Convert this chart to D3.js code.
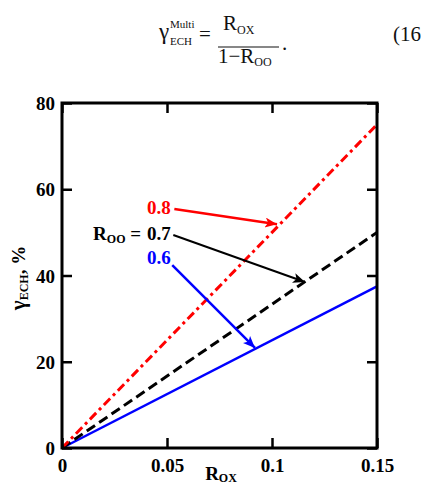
<!DOCTYPE html>
<html>
<head>
<meta charset="utf-8">
<script src="https://cdn.jsdelivr.net/npm/d3@7"></script>
<style>
  body { margin: 0; background: #fff; }
  text { font-family: "Liberation Serif", "DejaVu Serif", serif; }
</style>
</head>
<body>
<div id="chart"></div>
<script>
// data
var rOx = [0, 0.15];
var gamma08 = [0, 75];
var gamma07 = [0, 50];
var gamma06 = [0, 37.5];
var xTicks = [0, 0.05, 0.1, 0.15];
var xTickLabels = ["0", "0.05", "0.1", "0.15"];
var yTicks = [0, 20, 40, 60, 80];
var yTickLabels = ["0", "20", "40", "60", "80"];

// annotation labels and arrows (data units)
var annLabels = ["0.8", "0.7", "0.6"];
var annColors = ["#ff0000", "#000000", "#0000ff"];
var annTextX = [0.0405, 0.0405, 0.0405];
var annTextY = [54.3, 48.2, 42.7];
var arrowX0 = [0.0535, 0.0530, 0.0525];
var arrowY0 = [55.4, 49.4, 42.4];
var arrowX1 = [0.1024, 0.1157, 0.0919];
var arrowY1 = [51.9, 38.5, 23.2];

var width = 429, height = 485;
var plotL = 62, plotR = 377, plotT = 103, plotB = 448;

var svg = d3.select("#chart").append("svg")
  .attr("width", width)
  .attr("height", height);

var x = d3.scaleLinear().domain([0, 0.15]).range([plotL, plotR]);
var y = d3.scaleLinear().domain([0, 80]).range([plotB, plotT]);

// equation above the chart
var eq = svg.append("g").attr("fill", "#111").style("font-size", "21px");
eq.append("text").attr("x", 159).attr("y", 39).style("font-size", "23px").text("\u03b3");
eq.append("text").attr("x", 170).attr("y", 28).style("font-size", "11px").text("Multi");
eq.append("text").attr("x", 170).attr("y", 45).style("font-size", "11px").text("ECH");
eq.append("text").attr("x", 199).attr("y", 41).text("=");
var num = eq.append("text").attr("x", 223).attr("y", 30);
num.append("tspan").text("R");
num.append("tspan").attr("dy", 4).style("font-size", "12px").text("OX");
eq.append("line").attr("x1", 218).attr("x2", 279).attr("y1", 47).attr("y2", 47)
  .attr("stroke", "#111").attr("stroke-width", 1.2);
var den = eq.append("text").attr("x", 218).attr("y", 63);
den.append("tspan").text("1\u2212R");
den.append("tspan").attr("dy", 3).style("font-size", "12px").text("OO");
eq.append("text").attr("x", 282).attr("y", 50).text(".");
eq.append("text").attr("x", 393).attr("y", 41).text("(16");

// lines
var line = d3.line()
  .x(function (d) { return x(d[0]); })
  .y(function (d) { return y(d[1]); });

function pairs(ys) {
  return rOx.map(function (v, i) { return [v, ys[i]]; });
}

svg.append("path").datum(pairs(gamma06))
  .attr("d", line).attr("fill", "none")
  .attr("stroke", "#0000ff").attr("stroke-width", 2.5);
svg.append("path").datum(pairs(gamma07))
  .attr("d", line).attr("fill", "none")
  .attr("stroke", "#000").attr("stroke-width", 3)
  .attr("stroke-dasharray", "10,5");
svg.append("path").datum(pairs(gamma08))
  .attr("d", line).attr("fill", "none")
  .attr("stroke", "#ff0000").attr("stroke-width", 3)
  .attr("stroke-dasharray", "9,4,3,4");

// axes with inward ticks on all four sides
var xAxisB = d3.axisBottom(x).tickValues(xTicks).tickSize(-10)
  .tickFormat(function (d, i) { return xTickLabels[i]; });
var xAxisT = d3.axisTop(x).tickValues(xTicks).tickSize(-10).tickFormat("");
var yAxisL = d3.axisLeft(y).tickValues(yTicks).tickSize(-10)
  .tickFormat(function (d, i) { return yTickLabels[i]; });
var yAxisR = d3.axisRight(y).tickValues(yTicks).tickSize(-10).tickFormat("");

function styleAxis(g) {
  g.select(".domain").remove();
  g.selectAll(".tick line").attr("stroke", "#000").attr("stroke-width", 2.5);
  g.selectAll(".tick text")
    .attr("fill", "#000")
    .style("font-family", "'Liberation Serif', serif")
    .style("font-size", "19px")
    .style("font-weight", "bold");
}

svg.append("g").attr("transform", "translate(0," + plotB + ")").call(xAxisB).call(styleAxis)
  .selectAll(".tick text").attr("y", 11).attr("dy", "0.71em");
svg.append("g").attr("transform", "translate(0," + plotT + ")").call(xAxisT).call(styleAxis);
svg.append("g").attr("transform", "translate(" + plotL + ",0)").call(yAxisL).call(styleAxis)
  .selectAll(".tick text").attr("x", -7).attr("dy", "0.35em");
svg.append("g").attr("transform", "translate(" + plotR + ",0)").call(yAxisR).call(styleAxis);

// frame
svg.append("rect")
  .attr("x", plotL).attr("y", plotT)
  .attr("width", plotR - plotL).attr("height", plotB - plotT)
  .attr("fill", "none").attr("stroke", "#000").attr("stroke-width", 3);

// axis titles
var xt = svg.append("text")
  .attr("x", 221).attr("y", 480)
  .attr("text-anchor", "middle")
  .style("font-weight", "bold").style("font-size", "19px");
xt.append("tspan").text("R");
xt.append("tspan").attr("dy", 2).style("font-size", "12px").text("OX");

var yt = svg.append("text")
  .attr("transform", "translate(25,278) rotate(-90)")
  .attr("text-anchor", "middle")
  .style("font-weight", "bold").style("font-size", "19px");
yt.append("tspan").style("font-size", "21px").text("\u03b3");
yt.append("tspan").attr("dy", 3).style("font-size", "12px").text("ECH");
yt.append("tspan").attr("dy", -3).text(", %");

// arrow markers
var defs = svg.append("defs");
annColors.forEach(function (c, i) {
  defs.append("marker")
    .attr("id", "arr" + i)
    .attr("viewBox", "0 0 12 10")
    .attr("refX", 12).attr("refY", 5)
    .attr("markerWidth", 13).attr("markerHeight", 10)
    .attr("markerUnits", "userSpaceOnUse")
    .attr("orient", "auto")
    .append("path").attr("d", "M0,0 L12,5 L0,10 L3,5 Z").attr("fill", c);
});

annLabels.forEach(function (lab, i) {
  svg.append("line")
    .attr("x1", x(arrowX0[i])).attr("y1", y(arrowY0[i]))
    .attr("x2", x(arrowX1[i])).attr("y2", y(arrowY1[i]))
    .attr("stroke", annColors[i])
    .attr("stroke-width", i == 1 ? 2 : 2.5)
    .attr("marker-end", "url(#arr" + i + ")");
  svg.append("text")
    .attr("x", x(annTextX[i])).attr("y", y(annTextY[i]))
    .attr("fill", annColors[i])
    .style("font-weight", "bold").style("font-size", "19px")
    .text(lab);
});

var roo = svg.append("text")
  .attr("x", x(annTextX[1]) - 6).attr("y", y(annTextY[1]))
  .attr("text-anchor", "end")
  .style("font-weight", "bold").style("font-size", "19px");
roo.append("tspan").text("R");
roo.append("tspan").attr("dy", 3).style("font-size", "12px").text("OO");
roo.append("tspan").attr("dy", -3).text(" =");
</script>
</body>
</html>
